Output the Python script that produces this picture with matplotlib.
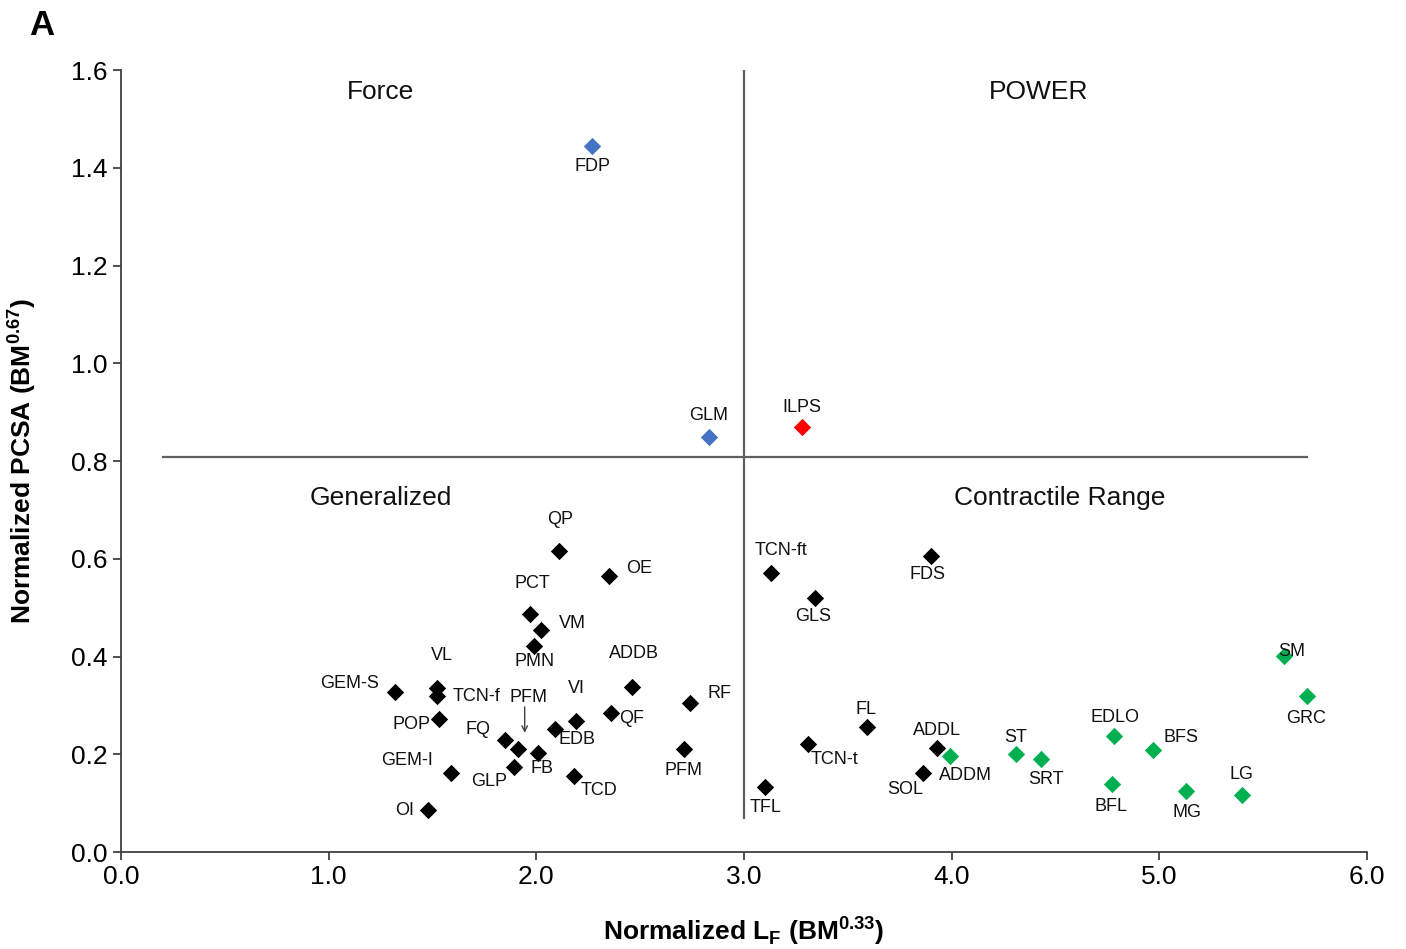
import matplotlib
matplotlib.use("Agg")
import matplotlib.pyplot as plt
from matplotlib.transforms import offset_copy

plt.rcParams['font.family'] = ['Liberation Sans', 'DejaVu Sans']
plt.rcParams['mathtext.fontset'] = 'custom'
plt.rcParams['mathtext.rm'] = 'Liberation Sans:bold'

# muscle name, normalized fibre length, normalized PCSA, group
muscles = ['FDP', 'GLM', 'ILPS',
           'QP', 'OE', 'PCT', 'VM', 'PMN', 'ADDB', 'RF', 'PFM',
           'GEM-S', 'VL', 'TCN-f', 'POP', 'FQ', 'PFM', 'EDB', 'VI', 'QF',
           'GEM-I', 'GLP', 'FB', 'TCD', 'OI',
           'TCN-ft', 'FDS', 'GLS', 'FL', 'TCN-t', 'TFL', 'ADDL', 'SOL',
           'ADDM', 'ST', 'SRT', 'EDLO', 'BFS', 'BFL', 'MG', 'LG', 'SM', 'GRC']
lf = [2.27, 2.83, 3.28,
      2.11, 2.35, 1.97, 2.02, 1.99, 2.46, 2.74, 2.71,
      1.32, 1.52, 1.52, 1.53, 1.85, 1.91, 2.09, 2.19, 2.36,
      1.59, 1.89, 2.01, 2.18, 1.48,
      3.13, 3.90, 3.34, 3.59, 3.31, 3.10, 3.93, 3.86,
      3.99, 4.31, 4.43, 4.78, 4.97, 4.77, 5.13, 5.40, 5.60, 5.71]
pcsa = [1.444, 0.849, 0.870,
        0.616, 0.565, 0.487, 0.454, 0.421, 0.338, 0.305, 0.211,
        0.327, 0.336, 0.319, 0.272, 0.229, 0.211, 0.252, 0.268, 0.284,
        0.162, 0.174, 0.203, 0.155, 0.086,
        0.571, 0.606, 0.520, 0.256, 0.221, 0.133, 0.213, 0.162,
        0.196, 0.200, 0.190, 0.237, 0.209, 0.139, 0.125, 0.117, 0.401, 0.319]
group = ['force', 'force', 'power'] + ['gen'] * 22 + ['cr'] * 8 + ['green'] * 10

quadrants = ['Force', 'POWER', 'Generalized', 'Contractile Range']
split_x = 3.0
split_y = 0.808

colors = {'force': '#4472C4', 'power': '#FF0000', 'gen': 'black',
          'cr': 'black', 'green': '#00B050'}

# label offsets in pixels (right, down) from each marker
offsets = [(0, 20), (0, -22), (0, -19),
           (1, -31), (30, -7), (2, -30), (32, -7), (0, 15), (2, -33), (29, -9), (0, 22),
           (-46, -9), (5, -32), (40, 0), (-27, 5), (-27, -11), (11, -51), (22, 11), (1, -33), (20, 5),
           (-44, -12), (-24, 15), (4, 16), (25, 14), (-24, 1),
           (10, -22), (-3, 19), (-2, 19), (-1, -17), (26, 15), (1, 20), (0, -17), (-17, 17),
           (16, 19), (0, -17), (5, 20), (1, -19), (28, -12), (-1, 22), (1, 22), (-1, -20), (8, -5), (-1, 22)]

fig = plt.figure(figsize=(14.06, 9.49), dpi=100)
ax = fig.add_axes([0.0861, 0.1022, 0.8862, 0.824])

ax.plot([split_x, split_x], [0.07, 1.605], color='#606060', lw=1.6, zorder=1)
ax.plot([0.2, 5.71], [split_y, split_y], color='#606060', lw=1.6, zorder=1)

for name, x, y, g, (dx, dy) in zip(muscles, lf, pcsa, group, offsets):
    ax.scatter(x, y, marker='D', s=78, color=colors[g], zorder=3, linewidths=0)
    ax.annotate(name, (x, y), xytext=(dx, -dy), textcoords='offset pixels',
                ha='center', va='center', fontsize=13, color='#111111', zorder=4)

# small arrow for the crowded PFM point
i = muscles.index('PFM', 11)
start = offset_copy(ax.transData, fig=fig, x=7, y=42, units='dots')
end = offset_copy(ax.transData, fig=fig, x=7, y=16, units='dots')
ax.annotate('', xy=(lf[i], pcsa[i]), xycoords=end,
            xytext=(lf[i], pcsa[i]), textcoords=start,
            arrowprops=dict(arrowstyle='->', color='#404040', lw=1.0,
                            shrinkA=0, shrinkB=0))

qpos = [(1.25, 1.555), (4.42, 1.555), (1.25, 0.725), (4.52, 0.725)]
for q, (qx, qy) in zip(quadrants, qpos):
    ax.text(qx, qy, q, ha='center', va='center', fontsize=19, color='#111111')

ax.set_xlim(0, 6)
ax.set_ylim(0, 1.6)
ax.set_xticks([0, 1, 2, 3, 4, 5, 6])
ax.set_yticks([0, 0.2, 0.4, 0.6, 0.8, 1.0, 1.2, 1.4, 1.6])
ax.xaxis.set_major_formatter(plt.FormatStrFormatter('%.1f'))
ax.yaxis.set_major_formatter(plt.FormatStrFormatter('%.1f'))
ax.tick_params(labelsize=19, direction='out', length=6, width=1.3, color='#404040')
for s in ['top', 'right']:
    ax.spines[s].set_visible(False)
for s in ['left', 'bottom']:
    ax.spines[s].set_linewidth(1.3)
    ax.spines[s].set_color('#404040')

ax.set_xlabel(r'Normalized L$_\mathrm{F}$ (BM$^\mathrm{0.33}$)', fontsize=19,
              fontweight='bold', labelpad=18)
ax.set_ylabel(r'Normalized PCSA (BM$^\mathrm{0.67}$)', fontsize=19,
              fontweight='bold', labelpad=24)

fig.text(0.03, 0.99, 'A', fontsize=25, fontweight='bold', va='top', ha='center')

fig.savefig('out.png', dpi=100)
